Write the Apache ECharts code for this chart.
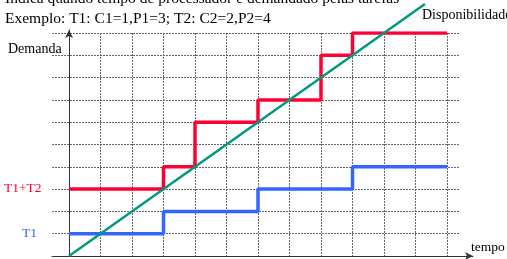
<!DOCTYPE html>
<html>
<head>
<meta charset="utf-8">
<script src="https://cdn.jsdelivr.net/npm/echarts@6/dist/echarts.min.js"></script>
<style>
    html, body { margin: 0; padding: 0; background: #fff; }
    #chart { width: 507px; height: 259px; }
</style>
</head>
<body>
<div id="chart"></div>
<script>
// tempo (x) e demanda (y)
var tempoT1T2 = [0, 3, 4, 6, 8, 9, 12];
var demandaT1T2 = [3, 4, 6, 7, 9, 10, 10];
var tempoT1 = [0, 3, 6, 9, 12];
var demandaT1 = [1, 2, 3, 4, 4];
var tempoDisp = [0, 11.3];
var disponibilidade = [0, 11.3];

var xMax = 12, yMax = 10;
var serif = "Liberation Serif";

function pares(xs, ys) {
    return xs.map((x, i) => [x, ys[i]]);
}

var chart = echarts.init(document.getElementById("chart"));

var gridLine = { show: true, lineStyle: { color: "#666", type: [2, 1], width: 1 } };
var off = { show: false };

chart.setOption({
    animation: false,
    grid: [
        // horizontal lines, wider than the data area
        { left: 52, right: 47, top: 33, bottom: 3 },
        // data area
        { left: 69, right: 60, top: 33, bottom: 3 },
        // axis lines with arrows
        { left: 52, right: 34, top: 30, bottom: 3 }
    ],
    xAxis: [
        { gridIndex: 0, type: "value", min: 0, max: 1, axisLine: off, axisTick: off, axisLabel: off, splitLine: off },
        { gridIndex: 1, type: "value", min: 0, max: xMax, interval: 1, axisLine: off, axisTick: off, axisLabel: off, splitLine: gridLine },
        { gridIndex: 2, type: "value", min: 0, max: 1, axisTick: off, axisLabel: off, splitLine: off,
          axisLine: { show: true, symbol: ["none", "arrow"], symbolSize: [6, 8], lineStyle: { color: "#333", width: 1 } } }
    ],
    yAxis: [
        { gridIndex: 0, type: "value", min: 0, max: yMax, interval: 1, axisLine: off, axisTick: off, axisLabel: off, splitLine: gridLine },
        { gridIndex: 1, type: "value", min: 0, max: yMax, interval: 1, axisLine: off, axisTick: off, axisLabel: off, splitLine: off },
        { gridIndex: 2, type: "value", min: 0, max: 1, offset: -17, axisTick: off, axisLabel: off, splitLine: off,
          axisLine: { show: true, symbol: ["none", "arrow"], symbolSize: [6, 8], lineStyle: { color: "#333", width: 1 } } }
    ],
    series: [
        {
            name: "T1", type: "line", xAxisIndex: 1, yAxisIndex: 1, step: "end",
            data: pares(tempoT1, demandaT1), showSymbol: false,
            lineStyle: { color: "#3366ff", width: 3.5 }
        },
        {
            name: "T1+T2", type: "line", xAxisIndex: 1, yAxisIndex: 1, step: "end",
            data: pares(tempoT1T2, demandaT1T2), showSymbol: false,
            lineStyle: { color: "#ff0033", width: 3.5 }
        },
        {
            name: "Disponibilidade", type: "line", xAxisIndex: 1, yAxisIndex: 1, clip: false,
            data: pares(tempoDisp, disponibilidade), showSymbol: false,
            lineStyle: { color: "#009980", width: 2.5 }
        }
    ],
    graphic: [
        { type: "text", left: 5, top: -9, style: { text: "Indica quando tempo de processador e demandado pelas tarefas", font: "15.5px " + serif, fill: "#000" } },
        { type: "text", left: 5, top: 11, style: { text: "Exemplo: T1: C1=1,P1=3; T2: C2=2,P2=4", font: "15.5px " + serif, fill: "#000" } },
        { type: "text", left: 422, top: 8, style: { text: "Disponibilidade", font: "14px " + serif, fill: "#000" } },
        { type: "text", left: 8, top: 42, style: { text: "Demanda", font: "14px " + serif, fill: "#000" } },
        { type: "text", left: 4, top: 181, style: { text: "T1+T2", font: "13.5px " + serif, fill: "#ff0033" } },
        { type: "text", left: 22, top: 226, style: { text: "T1", font: "13.5px " + serif, fill: "#3366ff" } },
        { type: "text", left: 471, top: 240, style: { text: "tempo", font: "13.5px " + serif, fill: "#000" } }
    ]
});
</script>
</body>
</html>
